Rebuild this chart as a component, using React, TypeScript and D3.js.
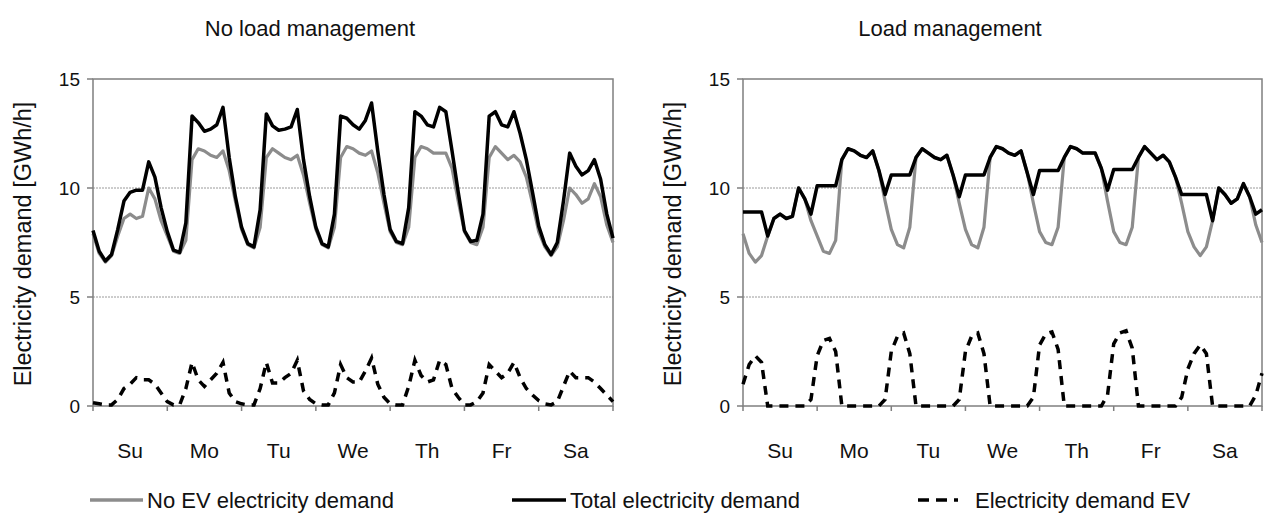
import * as d3 from 'd3';

// Weekly profiles, one value every 2 hours from Sunday 0:00 to Saturday 24:00
const dayLabels = ['Su', 'Mo', 'Tu', 'We', 'Th', 'Fr', 'Sa'];
const yTicks = [0, 5, 10, 15];
const hourStep = 2;

// No EV electricity demand (GWh/h), same in both panels
const noEvDemand = [
  7.9, 7.0, 6.6, 6.9, 7.8, 8.6, 8.8, 8.6, 8.7, 10.0, 9.5, 8.5, // Su
  7.8, 7.1, 7.0, 7.6, 11.3, 11.8, 11.7, 11.5, 11.4, 11.7, 10.8, 9.4, // Mo
  8.1, 7.4, 7.25, 8.2, 11.4, 11.8, 11.6, 11.4, 11.3, 11.5, 10.6, 9.3, // Tu
  8.1, 7.4, 7.25, 8.2, 11.4, 11.9, 11.8, 11.6, 11.5, 11.7, 10.7, 9.3, // We
  8.0, 7.5, 7.4, 8.2, 11.4, 11.9, 11.8, 11.6, 11.6, 11.6, 10.9, 9.4, // Th
  8.0, 7.5, 7.4, 8.2, 11.4, 11.9, 11.6, 11.3, 11.5, 11.2, 10.5, 9.3, // Fr
  8.0, 7.3, 6.9, 7.3, 8.5, 10.0, 9.7, 9.3, 9.5, 10.2, 9.6, 8.3, // Sa
  7.5,
];

// EV demand without load management
const evUncontrolled = [
  0.15, 0.1, 0.05, 0.05, 0.3, 0.8, 1.0, 1.3, 1.2, 1.2, 1.0, 0.6,
  0.2, 0.05, 0.05, 0.8, 2.0, 1.2, 0.9, 1.2, 1.5, 2.0, 0.6, 0.2,
  0.1, 0.05, 0.05, 0.8, 2.0, 1.05, 1.05, 1.3, 1.5, 2.1, 0.7, 0.3,
  0.1, 0.05, 0.05, 0.6, 1.9, 1.3, 1.1, 1.1, 1.6, 2.2, 1.0, 0.4,
  0.1, 0.05, 0.05, 0.9, 2.1, 1.4, 1.1, 1.2, 2.1, 1.9, 0.8, 0.4,
  0.05, 0.05, 0.2, 0.6, 1.9, 1.6, 1.3, 1.5, 2.0, 1.3, 0.8, 0.5,
  0.25, 0.1, 0.05, 0.2, 0.9, 1.6, 1.3, 1.3, 1.3, 1.1, 0.8, 0.5,
  0.2,
];

// EV demand with load management (charging moved into the night valleys)
const evManaged = [
  1.0, 1.9, 2.3, 2.0, 0, 0, 0, 0, 0, 0, 0, 0.3,
  2.3, 3.0, 3.1, 2.5, 0, 0, 0, 0, 0, 0, 0, 0.3,
  2.5, 3.2, 3.35, 2.4, 0, 0, 0, 0, 0, 0, 0, 0.3,
  2.5, 3.2, 3.35, 2.4, 0, 0, 0, 0, 0, 0, 0, 0.4,
  2.8, 3.3, 3.4, 2.6, 0, 0, 0, 0, 0, 0, 0, 0.5,
  2.85, 3.35, 3.45, 2.65, 0, 0, 0, 0, 0, 0, 0, 0.4,
  1.7, 2.4, 2.8, 2.4, 0, 0, 0, 0, 0, 0, 0, 0.5,
  1.5,
];

const FONT = '"Liberation Sans", Arial, sans-serif';
const GRAY = '#8c8c8c';
const AXIS = '#7f7f7f';

interface PanelProps {
  x0: number;
  x1: number;
  title: string;
  titleX: number;
  labelX: number;
  ev: number[];
}

const Panel = ({ x0, x1, title, titleX, labelX, ev }: PanelProps) => {
  const top = 79;
  const bottom = 406;
  const x = d3.scaleLinear().domain([0, 168]).range([x0, x1]);
  const y = d3.scaleLinear().domain([0, 15]).range([bottom, top]);
  const days = d3.scaleBand<string>().domain(dayLabels).range([x0, x1]);

  const points = noEvDemand.map((v, i) => ({ h: i * hourStep, base: v, ev: ev[i] }));
  type P = (typeof points)[number];

  const baseLine = d3.line<P>().x(d => x(d.h)).y(d => y(d.base));
  const totalLine = d3.line<P>().x(d => x(d.h)).y(d => y(d.base + d.ev));
  const evLine = d3.line<P>().x(d => x(d.h)).y(d => y(d.ev));

  return (
    <g>
      <text x={titleX} y={28} textAnchor="middle" dominantBaseline="central"
        fontSize={22} fontFamily={FONT} fill="#111">{title}</text>

      {/* grid lines */}
      {[5, 10].map(t => (
        <line key={t} x1={x0} x2={x1} y1={y(t)} y2={y(t)}
          stroke="#9a9a9a" strokeWidth={1} strokeDasharray="2,1" />
      ))}

      {/* frame */}
      <rect x={x0} y={top} width={x1 - x0} height={bottom - top}
        fill="none" stroke={AXIS} strokeWidth={1.5} />

      {/* y ticks */}
      {yTicks.map(t => (
        <g key={t}>
          <line x1={x0 - 6} x2={x0} y1={y(t)} y2={y(t)} stroke={AXIS} strokeWidth={1.5} />
          <text x={x0 - 13} y={y(t)} textAnchor="end" dominantBaseline="central"
            fontSize={19} fontFamily={FONT} fill="#111">{t}</text>
        </g>
      ))}

      {/* x ticks at day boundaries */}
      {d3.range(0, 8).map(i => (
        <line key={i} x1={x(i * 24)} x2={x(i * 24)} y1={bottom} y2={bottom + 5}
          stroke={AXIS} strokeWidth={1.5} />
      ))}
      {dayLabels.map(d => (
        <text key={d} x={(days(d) ?? 0) + days.bandwidth() / 2} y={450}
          textAnchor="middle" dominantBaseline="central"
          fontSize={21} fontFamily={FONT} fill="#111">{d}</text>
      ))}

      <text transform={`translate(${labelX},244) rotate(-90)`} textAnchor="middle"
        dominantBaseline="central" fontSize={23.5} fontFamily={FONT} fill="#111">
        Electricity demand [GWh/h]
      </text>

      <path d={baseLine(points) ?? ''} fill="none" stroke={GRAY} strokeWidth={3.2}
        strokeLinejoin="round" />
      <path d={totalLine(points) ?? ''} fill="none" stroke="#000" strokeWidth={3.5}
        strokeLinejoin="round" />
      <path d={evLine(points) ?? ''} fill="none" stroke="#000" strokeWidth={3.5}
        strokeDasharray="9,7" />
    </g>
  );
};

export default function App() {
  const legendY = 500;
  return (
    <svg width={1272} height={513} style={{ position: 'absolute', left: 0, top: 0, background: '#fff' }}>
      <rect width={1272} height={513} fill="#fff" />
      <Panel x0={93} x1={613} title="No load management" titleX={310} labelX={23} ev={evUncontrolled} />
      <Panel x0={743} x1={1262} title="Load management" titleX={950} labelX={673} ev={evManaged} />

      {/* legend */}
      <g fontFamily={FONT} fontSize={22} fill="#111">
        <line x1={90} x2={143} y1={legendY} y2={legendY} stroke={GRAY} strokeWidth={3.5} />
        <text x={147} y={legendY} dominantBaseline="central">No EV electricity demand</text>
        <line x1={512} x2={566} y1={legendY} y2={legendY} stroke="#000" strokeWidth={3.5} />
        <text x={570} y={legendY} dominantBaseline="central">Total electricity demand</text>
        <line x1={918} x2={958} y1={legendY} y2={legendY} stroke="#000" strokeWidth={3.5} strokeDasharray="11,7" />
        <text x={975} y={legendY} dominantBaseline="central">Electricity demand EV</text>
      </g>
    </svg>
  );
}
